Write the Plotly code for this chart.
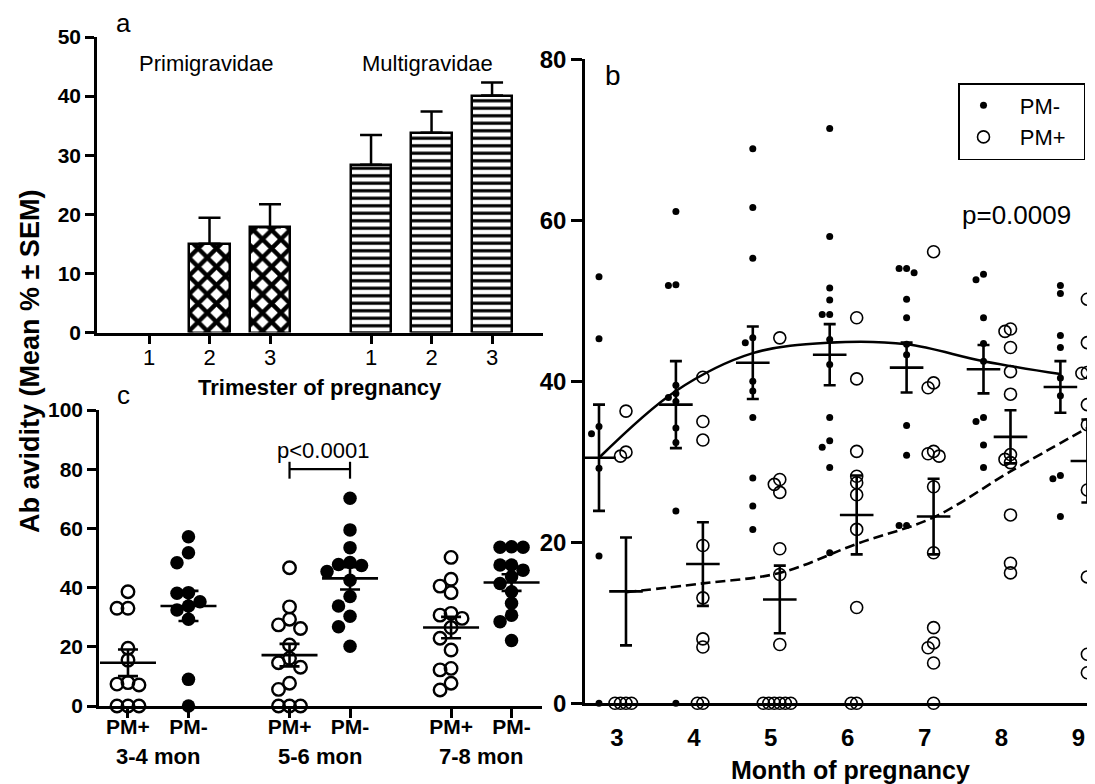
import plotly.graph_objects as go

FONT = "Liberation Sans, Arial, sans-serif"
W, H = 1095, 784
OFF = 8  # page body margin of the rendered html

# ---------------- data: panel a (bar chart) ----------------
trimester_labels = ["1", "2", "3"]
primi_mean = [None, 15.0, 17.8]
primi_sem = [0, 4.4, 3.9]
multi_mean = [28.4, 33.8, 40.1]
multi_sem = [5.0, 3.6, 2.2]

# ---------------- data: panel c (scatter by period) ----------------
c_groups = ["3-4 mon", "5-6 mon", "7-8 mon"]
c_pos_vals = [
    [38.6, 33.0, 33.0, 19.5, 15.5, 7.9, 7.4, 7.1, 0, 0, 0],
    [46.7, 33.5, 29.3, 27.4, 26.2, 20.6, 16.1, 14.6, 13.1, 7.7, 5.6, 0, 0, 0],
    [50.2, 42.8, 40.5, 38.3, 31.3, 30.7, 29.6, 26.5, 22.9, 18.9, 12.7, 12.2, 7.7, 5.4],
]
c_neg_vals = [
    [57.2, 51.8, 48.4, 38.3, 38.1, 35.2, 33.8, 32.4, 29.3, 9.0, 0],
    [70.2, 59.5, 53.5, 48.5, 47.8, 47.5, 45.4, 42.5, 37.0, 33.8, 30.3, 26.8, 20.2],
    [53.8, 53.6, 53.6, 47.6, 47.6, 45.9, 43.7, 41.4, 38.6, 34.7, 30.7, 28.5, 22.1],
]
c_pos_mean = [14.6, 17.2, 26.5]
c_pos_sem = [4.5, 3.8, 3.6]
c_neg_mean = [33.8, 43.1, 41.7]
c_neg_sem = [5.1, 3.75, 2.8]

# ---------------- data: panel b (by month) ----------------
months = [3, 4, 5, 6, 7, 8, 9]
b_neg_vals = [
    [53.0, 45.3, 34.4, 33.5, 29.2, 18.3, 0],
    [61.1, 52.0, 51.9, 39.5, 38.5, 38.0, 37.5, 34.2, 32.4, 23.9, 0],
    [68.9, 61.6, 55.3, 45.4, 44.8, 40.0, 38.8, 35.5, 28.0, 24.5, 21.6],
    [71.4, 58.0, 51.6, 50.1, 48.3, 48.3, 45.2, 42.1, 35.5, 32.6, 31.8, 29.3, 18.7],
    [54.0, 54.0, 53.5, 50.2, 47.9, 44.6, 43.3, 34.5, 30.8, 22.1, 22.1],
    [53.3, 52.6, 47.9, 44.7, 42.5, 35.5, 35.0, 32.1, 29.3],
    [51.9, 50.9, 45.7, 44.2, 40.4, 38.2, 28.3, 27.9, 23.2],
]
b_pos_vals = [
    [36.3, 31.2, 30.7, 0, 0, 0, 0],
    [40.5, 35.0, 32.7, 19.6, 13.1, 8.0, 7.0, 0, 0],
    [45.4, 27.8, 27.2, 26.2, 19.2, 16.0, 7.3, 0, 0, 0, 0, 0, 0],
    [47.9, 40.3, 31.3, 28.2, 27.4, 25.9, 21.6, 11.9, 0, 0],
    [56.1, 39.8, 39.2, 31.3, 31.0, 30.7, 26.9, 18.7, 9.4, 7.5, 6.9, 5.0, 0],
    [46.5, 46.2, 44.2, 41.2, 38.4, 30.9, 30.3, 29.9, 23.4, 17.4, 16.2],
    [50.2, 44.8, 41.1, 41.0, 37.1, 34.6, 26.5, 15.7, 6.1, 3.8],
]
b_neg_mean = [30.5, 37.1, 42.3, 43.3, 41.7, 41.5, 39.3]
b_neg_sem = [6.6, 5.4, 4.5, 3.8, 3.1, 3.0, 3.2]
b_pos_mean = [13.9, 17.3, 12.9, 23.4, 23.2, 33.1, 30.1]
b_pos_sem = [6.7, 5.2, 4.2, 4.9, 4.7, 3.3, 5.15]
b_neg_fit = [30.5, 38.8, 43.5, 44.8, 44.6, 42.5, 40.9]
b_pos_fit = [13.8, 14.9, 16.2, 19.8, 23.1, 28.8, 34.2]


# ---------------- helpers ----------------
def px_x(p):
    return (p - OFF) / W


def px_y(p):
    return 1 - (p - OFF) / H


def swarm(vals, ppu_y, coll, step):
    """simple beeswarm: returns horizontal pixel offsets"""
    order = [0]
    for k in range(1, 15):
        order += [-k, k]
    placed, offs = [], []
    for v in vals:
        y = v * ppu_y
        xo = 0
        for c in order:
            xo = c * step
            if all((xo - px) ** 2 + (y - py) ** 2 >= coll ** 2 - 1e-9 for px, py in placed):
                break
        placed.append((xo, y))
        offs.append(xo)
    return offs


fig = go.Figure()
BLACK = "black"
NB = "\u00a0"

# ---------------- panel a ----------------
a_pos_p = [i + 1 for i in range(3)]
a_pos_m = [i + 1 + 3 + 0.67 for i in range(3)]

fig.add_trace(go.Bar(
    x=a_pos_p, y=primi_mean, width=0.67, xaxis="x", yaxis="y",
    marker=dict(color="white", line=dict(color=BLACK, width=2.5),
                pattern=dict(shape="x", size=13, solidity=0.55, fgcolor=BLACK, bgcolor="white",
                             fgopacity=1)),
    error_y=dict(type="data", symmetric=False, array=primi_sem, arrayminus=[0, 0, 0],
                 color=BLACK, thickness=2.5, width=11),
    showlegend=False))
fig.add_trace(go.Bar(
    x=a_pos_m, y=multi_mean, width=0.67, xaxis="x", yaxis="y",
    marker=dict(color="white", line=dict(color=BLACK, width=2.5),
                pattern=dict(shape="-", size=7.5, solidity=0.42, fgcolor=BLACK, bgcolor="white",
                             fgopacity=1)),
    error_y=dict(type="data", symmetric=False, array=multi_sem, arrayminus=[0, 0, 0],
                 color=BLACK, thickness=2.5, width=11),
    showlegend=False))

# ---------------- panel c ----------------
C_PPU_X, C_PPU_Y = 60.5, 2.96
c_pos_x = [1 + g * 2.67 for g in range(3)]
c_neg_x = [2 + g * 2.67 for g in range(3)]

cx_p, cy_p, cx_n, cy_n = [], [], [], []
for g in range(3):
    offs = swarm(c_pos_vals[g], C_PPU_Y, 11, 11)
    cx_p += [c_pos_x[g] + o / C_PPU_X for o in offs]
    cy_p += c_pos_vals[g]
    offs = swarm(c_neg_vals[g], C_PPU_Y, 11.5, 11.5)
    cx_n += [c_neg_x[g] + o / C_PPU_X for o in offs]
    cy_n += c_neg_vals[g]

fig.add_trace(go.Scatter(x=cx_p, y=cy_p, mode="markers", xaxis="x2", yaxis="y2",
                         marker=dict(symbol="circle-open", size=12.5, color=BLACK, line=dict(width=2.4)),
                         cliponaxis=False, showlegend=False))
fig.add_trace(go.Scatter(x=cx_n, y=cy_n, mode="markers", xaxis="x2", yaxis="y2",
                         marker=dict(symbol="circle", size=13.5, color=BLACK),
                         cliponaxis=False, showlegend=False))
for xs, ms, ss in ((c_pos_x, c_pos_mean, c_pos_sem), (c_neg_x, c_neg_mean, c_neg_sem)):
    fig.add_trace(go.Scatter(x=xs, y=ms, mode="markers", xaxis="x2", yaxis="y2",
                             marker=dict(symbol="line-ew", size=40, color=BLACK,
                                         line=dict(width=2.6, color=BLACK)),
                             error_y=dict(type="data", array=ss, color=BLACK, thickness=2.6, width=10),
                             cliponaxis=False, showlegend=False))

# ---------------- panel b ----------------
B_PPU_X, B_PPU_Y = 76.9, 8.04
NEG_OFF, POS_OFF = -0.234, 0.117
b_neg_x = [m + NEG_OFF for m in months]
b_pos_x = [m + POS_OFF for m in months]

bx_n, by_n, bx_p, by_p = [], [], [], []
for i in range(len(months)):
    offs = swarm(b_neg_vals[i], B_PPU_Y, 7.5, 7.5)
    bx_n += [b_neg_x[i] + o / B_PPU_X for o in offs]
    by_n += b_neg_vals[i]
    offs = swarm(b_pos_vals[i], B_PPU_Y, 5.5, 5.5)
    bx_p += [b_pos_x[i] + o / B_PPU_X for o in offs]
    by_p += b_pos_vals[i]

fig.add_trace(go.Scatter(x=b_neg_x, y=b_neg_fit, mode="lines", xaxis="x3", yaxis="y3",
                         line=dict(color=BLACK, width=2.6, shape="spline"),
                         showlegend=False))
fig.add_trace(go.Scatter(x=b_pos_x, y=b_pos_fit, mode="lines", xaxis="x3", yaxis="y3",
                         line=dict(color=BLACK, width=2.6, shape="spline", dash="10px,5px"),
                         showlegend=False))
fig.add_trace(go.Scatter(x=bx_n, y=by_n, mode="markers", xaxis="x3", yaxis="y3",
                         name=NB * 2 + "PM-",
                         marker=dict(symbol="circle", size=7, color=BLACK),
                         cliponaxis=False, showlegend=True))
fig.add_trace(go.Scatter(x=bx_p, y=by_p, mode="markers", xaxis="x3", yaxis="y3",
                         name=NB * 2 + "PM+" + NB * 2,
                         marker=dict(symbol="circle-open", size=12, color=BLACK, line=dict(width=1.6)),
                         cliponaxis=False, showlegend=True))
for xs, ms, ss in ((b_neg_x, b_neg_mean, b_neg_sem), (b_pos_x, b_pos_mean, b_pos_sem)):
    fig.add_trace(go.Scatter(x=xs, y=ms, mode="markers", xaxis="x3", yaxis="y3",
                             marker=dict(symbol="line-ew", size=24, color=BLACK,
                                         line=dict(width=2.6, color=BLACK)),
                             error_y=dict(type="data", array=ss, color=BLACK, thickness=2.6, width=6),
                             cliponaxis=False, showlegend=False))

# ---------------- axes ----------------
axis_common = dict(showline=True, linecolor=BLACK, linewidth=2.5, showgrid=False, zeroline=False,
                   ticks="outside", ticklen=9, tickwidth=2.5, tickcolor=BLACK, automargin=False)

layout = dict(
    width=W, height=H, margin=dict(l=0, r=0, t=0, b=0, pad=0, autoexpand=False),
    paper_bgcolor="white", plot_bgcolor="white",
    font=dict(family=FONT, color=BLACK),
    bargap=0,
    xaxis=dict(domain=[px_x(97), px_x(543)], range=[0.1405, 7.512], anchor="y",
               tickvals=a_pos_p + a_pos_m, ticktext=trimester_labels + trimester_labels,
               tickfont=dict(size=22, family=FONT), ticklabelstandoff=-6, **axis_common),
    yaxis=dict(domain=[px_y(332.5), px_y(37)], range=[0, 50], anchor="x",
               tickvals=[0, 10, 20, 30, 40, 50],
               tickfont=dict(size=21, family=FONT, weight="bold"), **axis_common),
    xaxis2=dict(domain=[px_x(99), px_x(542)], range=[0.521, 7.843], anchor="y2",
                tickvals=[v for pair in zip(c_pos_x, c_neg_x) for v in pair],
                ticktext=["PM+", "PM-"] * 3, ticklabelstandoff=-9,
                tickfont=dict(size=21, family=FONT, weight="bold"), **axis_common),
    yaxis2=dict(domain=[px_y(706), px_y(410)], range=[0, 100], anchor="x2",
                tickvals=[0, 20, 40, 60, 80, 100],
                tickfont=dict(size=21, family=FONT, weight="bold"), **axis_common),
    xaxis3=dict(domain=[px_x(585), px_x(1095)], range=[2.584, 9.216], anchor="y3",
                tickvals=months, ticktext=[str(m) for m in months],
                tickfont=dict(size=24, family=FONT, weight="bold"),
                showline=True, linecolor=BLACK, linewidth=2.5, showgrid=False, zeroline=False,
                ticks="", ticklabelstandoff=11, automargin=False),
    yaxis3=dict(domain=[px_y(703.3), px_y(59.3)], range=[0, 80], anchor="x3",
                tickvals=[0, 20, 40, 60, 80],
                tickfont=dict(size=24, family=FONT, weight="bold"),
                **{**axis_common, "ticklen": 11}),
    legend=dict(x=px_x(1085), y=px_y(83), xanchor="right", yanchor="top",
                bordercolor=BLACK, borderwidth=1.5, bgcolor="white", itemwidth=38,
                font=dict(size=22, family=FONT), tracegroupgap=0),
)
fig.update_layout(**layout)


def ann(text, x, y, size, bold=False, angle=0):
    fig.add_annotation(text=text, x=px_x(x), y=px_y(y), xref="paper", yref="paper",
                       showarrow=False, xanchor="center", yanchor="middle", textangle=angle,
                       font=dict(size=size, family=FONT, color=BLACK,
                                 weight="bold" if bold else "normal"))


ann("a", 123, 23, 26)
ann("Primigravidae", 206, 63, 22)
ann("Multigravidae", 427, 63, 22)
ann("Trimester of pregnancy", 320, 388, 22, bold=True)
ann("c", 123, 395, 26)
ann("p<0.0001", 323, 450, 22)
ann("b", 613, 75, 28)
ann("p=0.0009", 1016, 215, 26)
ann("Month of pregnancy", 850, 770, 25, bold=True)
ann("Ab avidity (Mean % \u00b1 SEM)", 30, 362, 27, bold=True, angle=-90)
for g, lab in enumerate(c_groups):
    ann(lab, (128 + 60.5 * (c_pos_x[g] - 1) + 128 + 60.5 * (c_neg_x[g] - 1)) / 2, 756, 22, bold=True)

# significance bracket in panel c
bx0, bx1 = c_pos_x[1], c_neg_x[1]
for shp in (dict(x0=bx0, x1=bx1, y0=80, y1=80),
            dict(x0=bx0, x1=bx0, y0=76.8, y1=82.5),
            dict(x0=bx1, x1=bx1, y0=76.8, y1=82.5)):
    fig.add_shape(type="line", xref="x2", yref="y2", line=dict(color=BLACK, width=2.2), **shp)

fig.write_html("out.html")
